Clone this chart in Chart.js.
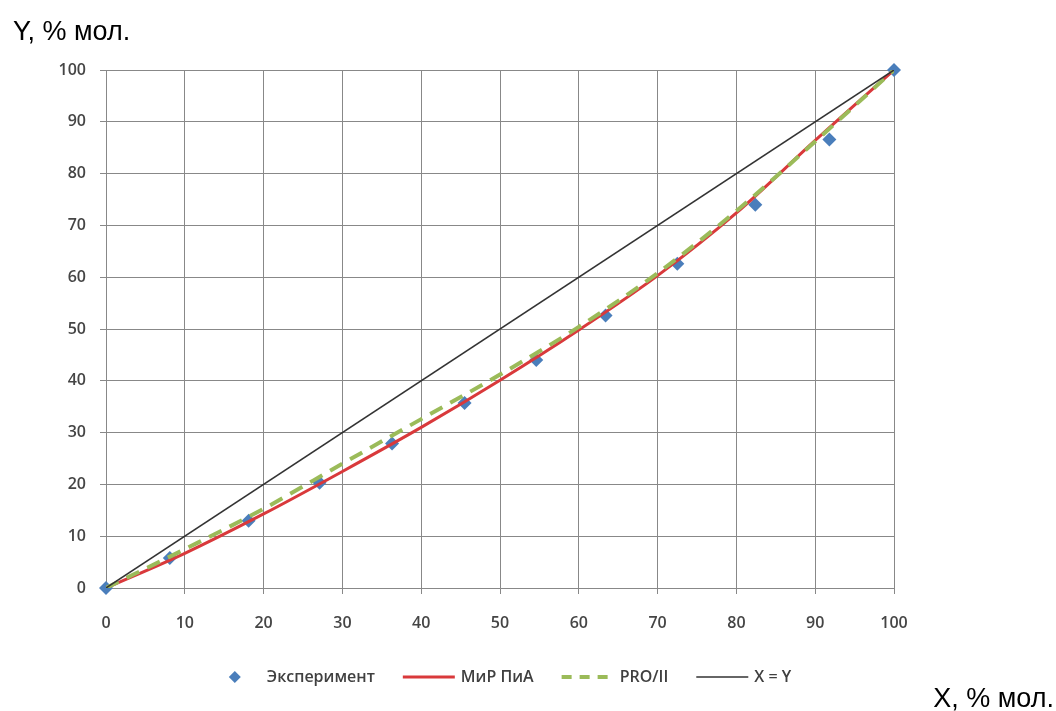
<!DOCTYPE html>
<html>
<head>
<meta charset="utf-8">
<script src="https://cdn.jsdelivr.net/npm/chart.js@4"></script>
<style>
  html, body { margin: 0; padding: 0; background: #fff; }
  #chart { display: block; }
</style>
</head>
<body>
<canvas id="chart" width="1056" height="711"></canvas>
<script>
// Эксперимент
const expX = [0, 8.1, 18.1, 27.1, 36.3, 45.5, 54.6, 63.4, 72.5, 82.4, 91.8, 100];
const expY = [0, 5.8, 13.0, 20.3, 27.9, 35.7, 44.0, 52.6, 62.6, 74.0, 86.6, 100];

// МиР ПиА
const mirX = [0, 10, 20, 30, 40, 50, 60, 70, 80, 90, 100];
const mirY = [0, 6.7, 14.3, 22.5, 31.0, 40.1, 49.8, 60.3, 72.4, 86.4, 100];

// PRO/II
const proX = [0, 10, 20, 30, 40, 50, 60, 70, 80, 90, 100];
const proY = [0, 7.5, 15.3, 24.0, 32.6, 41.2, 50.4, 60.8, 72.8, 86.2, 100];

// X = Y
const diagX = [0, 100];
const diagY = [0, 100];

const tickValues = [0, 10, 20, 30, 40, 50, 60, 70, 80, 90, 100];

const toPoints = (xs, ys) => xs.map((x, i) => ({ x: x, y: ys[i] }));

const GRID = '#888888';
const TICK_FONT = { family: "'Open Sans', sans-serif", size: 16, weight: '600' };

// легенда снизу, как в Excel
const bottomLegend = {
    id: 'bottomLegend',
    afterDraw(chart) {
        const ctx = chart.ctx;
        const area = chart.chartArea;
        const keyW = 52, gapText = 6, gapItem = 28;
        const cy = 677;
        ctx.save();
        ctx.font = "600 16px 'Open Sans', sans-serif";
        const items = chart.data.datasets;
        const widths = items.map(ds => keyW + gapText + ctx.measureText(ds.label).width);
        const total = widths.reduce((a, b) => a + b, 0) + gapItem * (items.length - 1);
        let x = (area.left + area.right) / 2 - total / 2;
        items.forEach((ds, i) => {
            if (ds.showLine === false) {
                const r = 6;
                const cx = x + keyW / 2;
                ctx.fillStyle = ds.backgroundColor;
                ctx.beginPath();
                ctx.moveTo(cx, cy - r);
                ctx.lineTo(cx + r, cy);
                ctx.lineTo(cx, cy + r);
                ctx.lineTo(cx - r, cy);
                ctx.closePath();
                ctx.fill();
            } else {
                ctx.strokeStyle = ds.borderColor;
                ctx.lineWidth = ds.borderWidth;
                ctx.setLineDash(ds.borderDash ? [10, 8] : []);
                ctx.beginPath();
                ctx.moveTo(x, cy);
                ctx.lineTo(x + keyW, cy);
                ctx.stroke();
                ctx.setLineDash([]);
            }
            ctx.fillStyle = '#404040';
            ctx.textBaseline = 'middle';
            ctx.textAlign = 'left';
            ctx.fillText(ds.label, x + keyW + gapText, cy);
            x += widths[i] + gapItem;
        });

        // подписи осей
        ctx.fillStyle = '#000';
        ctx.font = "27px 'Liberation Sans', Arial, sans-serif";
        ctx.textBaseline = 'alphabetic';
        ctx.textAlign = 'left';
        ctx.fillText('Y, % мол.', 13, 40);
        ctx.textAlign = 'right';
        ctx.fillText('X, % мол.', 1054, 707);
        ctx.restore();
    }
};

new Chart(document.getElementById('chart'), {
    type: 'scatter',
    data: {
        datasets: [
            {
                label: 'Эксперимент',
                data: toPoints(expX, expY),
                showLine: false,
                pointStyle: 'rectRot',
                pointRadius: 7,
                backgroundColor: '#4a7ebb',
                borderColor: '#4a7ebb',
                borderWidth: 0,
                clip: false,
                order: 4
            },
            {
                label: 'МиР ПиА',
                data: toPoints(mirX, mirY),
                showLine: true,
                borderColor: '#d9393b',
                borderWidth: 3,
                pointRadius: 0,
                cubicInterpolationMode: 'monotone',
                order: 3
            },
            {
                label: 'PRO/II',
                data: toPoints(proX, proY),
                showLine: true,
                borderColor: '#9bbb59',
                borderWidth: 4,
                borderDash: [14, 9],
                pointRadius: 0,
                cubicInterpolationMode: 'monotone',
                order: 2
            },
            {
                label: 'X = Y',
                data: toPoints(diagX, diagY),
                showLine: true,
                borderColor: '#333333',
                borderWidth: 1.5,
                pointRadius: 0,
                order: 1
            }
        ]
    },
    options: {
        responsive: false,
        animation: false,
        events: [],
        layout: { padding: { left: 0, top: 70, right: 162, bottom: 0 } },
        plugins: {
            legend: { display: false },
            tooltip: { enabled: false }
        },
        scales: {
            x: {
                type: 'linear',
                min: 0,
                max: 100,
                afterBuildTicks: s => { s.ticks = tickValues.map(v => ({ value: v })); },
                afterFit: s => { s.height = 123; },
                ticks: { color: '#454545', font: TICK_FONT, padding: 20, maxRotation: 0 },
                grid: { color: GRID, tickLength: 6, lineWidth: 1 },
                border: { color: GRID }
            },
            y: {
                type: 'linear',
                min: 0,
                max: 100,
                afterBuildTicks: s => { s.ticks = tickValues.map(v => ({ value: v })); },
                afterFit: s => { s.width = 106; },
                ticks: { color: '#454545', font: TICK_FONT, padding: 14 },
                grid: { color: GRID, tickLength: 6, lineWidth: 1 },
                border: { color: GRID }
            }
        }
    },
    plugins: [bottomLegend]
});
</script>
</body>
</html>
